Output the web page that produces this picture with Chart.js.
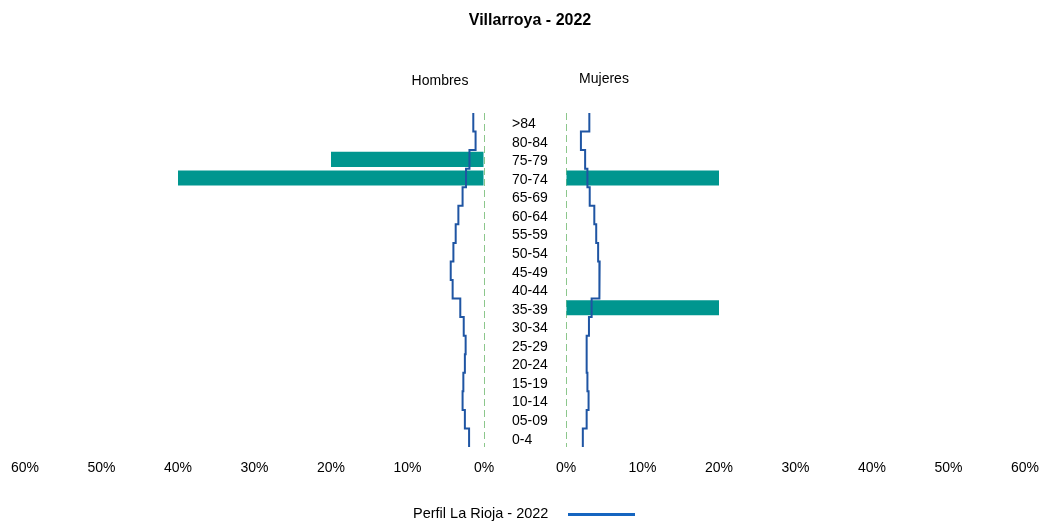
<!DOCTYPE html>
<html>
<head>
<meta charset="utf-8">
<script src="https://cdn.jsdelivr.net/npm/chart.js@4"></script>
<style>
  body { margin: 0; background: #fff; font-family: "Liberation Sans", Arial, sans-serif; }
  #wrap { position: relative; width: 1044px; height: 522px; }
  canvas { position: absolute; left: 0; top: 0; }
  .txt { position: absolute; color: #000; white-space: nowrap; transform: translateX(-50%); }
  #titulo { left: 530px; top: 11px; font-size: 16px; font-weight: bold; }
  #hombres { left: 440px; top: 72px; font-size: 14px; }
  #mujeres { left: 604px; top: 70px; font-size: 14px; }
  #leyenda { position: absolute; left: 413px; top: 505px; font-size: 14.5px; }
  #leyenda span.linea { position: absolute; left: 155px; top: 8px; width: 67px; height: 3px; background: #1565c0; }
</style>
</head>
<body>
<div id="wrap">
  <canvas id="hombresChart" width="1044" height="522"></canvas>
  <canvas id="mujeresChart" width="1044" height="522"></canvas>
  <div class="txt" id="titulo">Villarroya - 2022</div>
  <div class="txt" id="hombres">Hombres</div>
  <div class="txt" id="mujeres">Mujeres</div>
  <div id="leyenda">Perfil La Rioja - 2022<span class="linea"></span></div>
</div>
<script>
// Datos (porcentajes), de arriba (>84) a abajo (0-4)
const edades = ['>84', '80-84', '75-79', '70-74', '65-69', '60-64', '55-59', '50-54', '45-49',
  '40-44', '35-39', '30-34', '25-29', '20-24', '15-19', '10-14', '05-09', '0-4'];
const hombres = [0, 0, 20, 40, 0, 0, 0, 0, 0, 0, 0, 0, 0, 0, 0, 0, 0, 0];
const mujeres = [0, 0, 0, 20, 0, 0, 0, 0, 0, 0, 20, 0, 0, 0, 0, 0, 0, 0];
const riojaHombres = [1.4, 1.1, 1.9, 2.35, 2.8, 3.35, 3.7, 4.0, 4.35, 4.1, 3.1, 2.65, 2.4, 2.5, 2.7, 2.8, 2.5, 1.95];
const riojaMujeres = [3.05, 1.95, 2.5, 2.8, 3.1, 3.7, 3.95, 4.2, 4.4, 4.35, 3.35, 3.0, 2.7, 2.7, 2.8, 2.95, 2.7, 2.2];
const ticksX = [0, 10, 20, 30, 40, 50, 60];

const colorBarra = '#00968f';
const colorLinea = '#1f55a3';
const colorCero = '#8cc78c';
const fuente = { family: '"Liberation Sans", Arial, sans-serif', size: 14 };

// Línea escalonada: cada grupo de edad ocupa su franja completa
function escalon(valores) {
  const pts = [];
  valores.forEach((v, i) => {
    pts.push({ x: v, y: i - 0.5 });
    pts.push({ x: v, y: i + 0.5 });
  });
  return pts;
}

function crearGrafico(id, barras, perfil, izquierda) {
  const ctx = document.getElementById(id).getContext('2d');
  return new Chart(ctx, {
    type: 'bar',
    data: {
      labels: edades,
      datasets: [{
        type: 'line',
        data: escalon(perfil),
        borderColor: colorLinea,
        borderWidth: 2,
        pointRadius: 0,
        fill: false,
        xAxisID: 'x',
        yAxisID: 'yl'
      }, {
        data: barras,
        backgroundColor: colorBarra,
        borderWidth: 0,
        grouped: false,
        categoryPercentage: 1,
        barPercentage: 0.81,
        xAxisID: 'x',
        yAxisID: 'y'
      }]
    },
    options: {
      indexAxis: 'y',
      responsive: false,
      animation: false,
      layout: {
        padding: izquierda
          ? { left: 25, right: 0, top: 113, bottom: 35 }
          : { left: 566, right: 19, top: 113, bottom: 35 }
      },
      scales: {
        x: {
          type: 'linear',
          min: 0,
          max: 60,
          reverse: izquierda,
          afterBuildTicks: s => { s.ticks = ticksX.map(v => ({ value: v })); },
          afterFit: s => { s.height = 40; s.paddingLeft = 0; s.paddingRight = 0; },
          ticks: {
            color: '#000',
            font: fuente,
            padding: 13,
            maxRotation: 0,
            callback: v => v + '%'
          },
          grid: {
            drawTicks: false,
            lineWidth: 1,
            color: c => (c.tick && c.tick.value === 0) ? colorCero : 'rgba(0,0,0,0)'
          },
          border: { display: false, dash: [7, 4] }
        },
        y: {
          type: 'category',
          display: izquierda,
          position: 'right',
          offset: true,
          afterFit: s => { if (izquierda) s.width = 1044 - 484; },
          ticks: { color: '#000', font: fuente, padding: 28, crossAlign: 'near', autoSkip: false, labelOffset: 2 },
          grid: { display: false, drawTicks: false },
          border: { display: false }
        },
        yl: {
          type: 'linear',
          display: false,
          offset: false,
          min: -0.5,
          max: edades.length - 0.5,
          reverse: true
        }
      },
      plugins: {
        legend: { display: false },
        title: { display: false },
        tooltip: { enabled: false }
      }
    }
  });
}

document.addEventListener('DOMContentLoaded', function() {
  crearGrafico('hombresChart', hombres, riojaHombres, true);
  crearGrafico('mujeresChart', mujeres, riojaMujeres, false);
});
</script>
</body>
</html>
